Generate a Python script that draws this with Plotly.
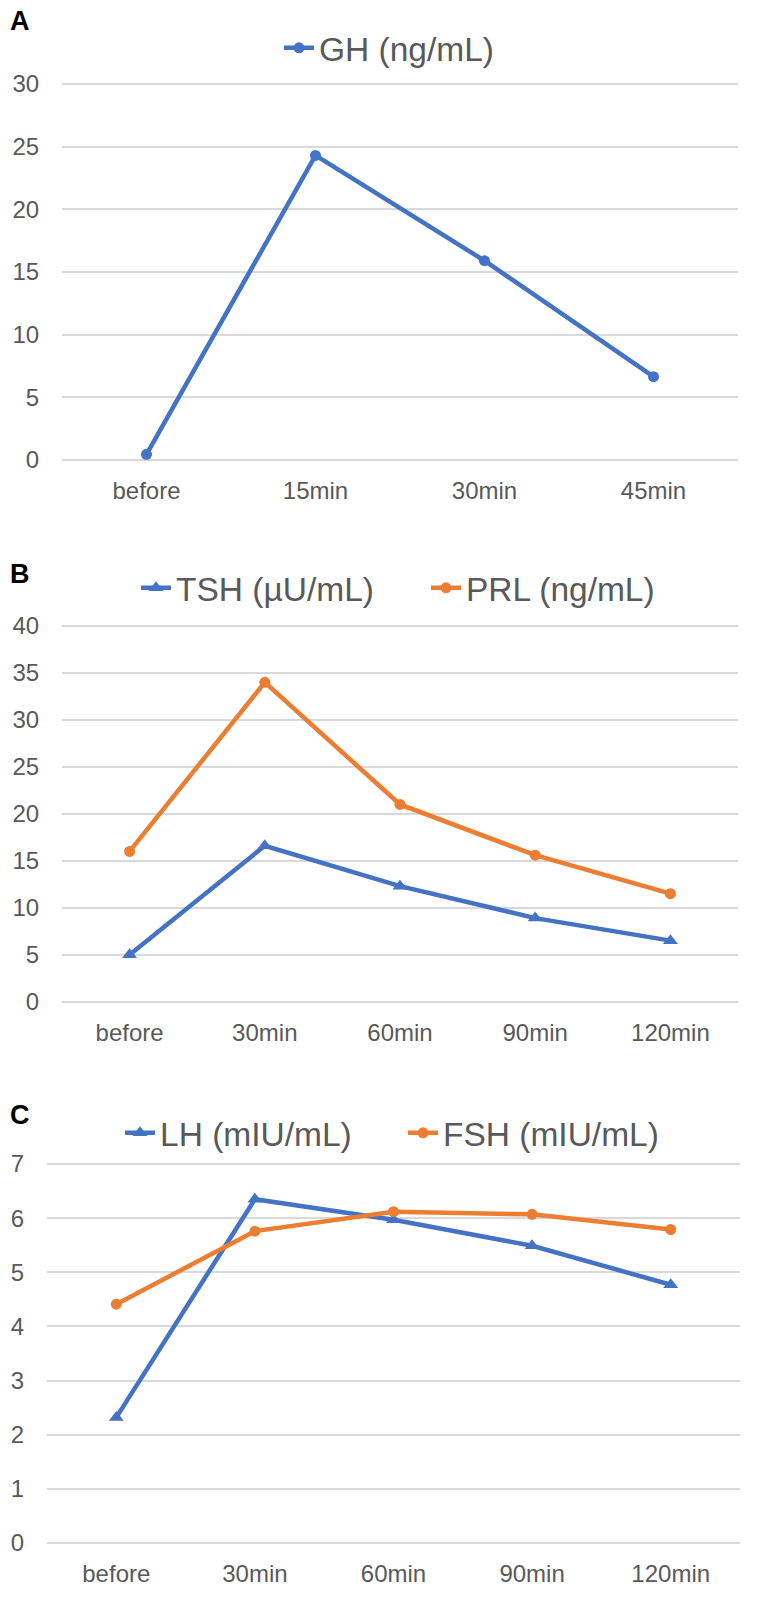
import plotly.graph_objects as go

# Panel A
cats_a = ["before", "15min", "30min", "45min"]
gh = [0.45, 24.3, 15.9, 6.65]

# Panel B
cats_b = ["before", "30min", "60min", "90min", "120min"]
tsh = [5.0, 16.6, 12.3, 8.9, 6.5]
prl = [16.0, 34.0, 21.0, 15.6, 11.5]

# Panel C
cats_c = ["before", "30min", "60min", "90min", "120min"]
lh = [2.32, 6.35, 5.97, 5.49, 4.77]
fsh = [4.41, 5.76, 6.12, 6.07, 5.79]

BLUE = "#4472C4"
ORANGE = "#ED7D31"
FONT = "Liberation Sans, Arial, sans-serif"
GREY = "#595959"

W, H = 760, 1598


def py(pix):
    return 1 - pix / H


fig = go.Figure()

LW = 4.5
fig.add_trace(go.Scatter(x=cats_a, y=gh, name="GH (ng/mL)", mode="lines+markers",
                         line=dict(color=BLUE, width=LW), marker=dict(symbol="circle", size=11, color=BLUE),
                         xaxis="x", yaxis="y", legend="legend"))
fig.add_trace(go.Scatter(x=cats_b, y=tsh, name="TSH (µU/mL)", mode="lines+markers",
                         line=dict(color=BLUE, width=LW), marker=dict(symbol="triangle-up", size=13, color=BLUE),
                         xaxis="x2", yaxis="y2", legend="legend2"))
fig.add_trace(go.Scatter(x=cats_b, y=prl, name="PRL (ng/mL)", mode="lines+markers",
                         line=dict(color=ORANGE, width=LW), marker=dict(symbol="circle", size=11, color=ORANGE),
                         xaxis="x2", yaxis="y2", legend="legend2"))
fig.add_trace(go.Scatter(x=cats_c, y=lh, name="LH (mIU/mL)", mode="lines+markers",
                         line=dict(color=BLUE, width=LW), marker=dict(symbol="triangle-up", size=13, color=BLUE),
                         xaxis="x3", yaxis="y3", legend="legend3"))
fig.add_trace(go.Scatter(x=cats_c, y=fsh, name="FSH (mIU/mL)", mode="lines+markers",
                         line=dict(color=ORANGE, width=LW), marker=dict(symbol="circle", size=11, color=ORANGE),
                         xaxis="x3", yaxis="y3", legend="legend3"))

tickfont = dict(family=FONT, size=24, color=GREY)


def xax(x0, x1, anchor, n):
    return dict(domain=[x0 / W, x1 / W], anchor=anchor, type="category", range=[-0.5, n - 0.5],
                showgrid=False, zeroline=False, showline=False, ticks="outside", ticklen=6,
                tickcolor="rgba(0,0,0,0)", tickfont=tickfont, fixedrange=True, automargin=False)


def yax(top_pix, bot_pix, anchor, vmax, dtick, pad=3):
    per = (bot_pix - top_pix) / vmax
    e = pad / per
    return dict(domain=[py(bot_pix + pad), py(top_pix - pad)], anchor=anchor, range=[-e, vmax + e],
                dtick=dtick, tick0=0, showgrid=True, gridcolor="#D9D9D9", gridwidth=2, zeroline=False,
                showline=False, ticks="outside", ticklen=17, tickcolor="rgba(0,0,0,0)",
                tickfont=tickfont, fixedrange=True, automargin=False)


legfont = dict(family=FONT, size=33.5, color=GREY)


def leg(x_text_start, ycenter, entrywidth=None):
    d = dict(orientation="h", x=(x_text_start - 40) / W, xanchor="left", y=py(ycenter),
             yanchor="middle", font=legfont, bgcolor="rgba(0,0,0,0)", borderwidth=0)
    if entrywidth:
        d["entrywidth"] = entrywidth
        d["entrywidthmode"] = "pixels"
    return d


fig.update_layout(
    width=W, height=H,
    margin=dict(l=0, r=0, t=0, b=0, autoexpand=False),
    paper_bgcolor="white", plot_bgcolor="white",
    xaxis=xax(62, 738, "y", len(cats_a)),
    yaxis=yax(84, 460, "x", 30, 5),
    xaxis2=xax(62, 738, "y2", len(cats_b)),
    yaxis2=yax(626, 1001.7, "x2", 40, 5),
    xaxis3=xax(47, 740, "y3", len(cats_c)),
    yaxis3=yax(1164, 1543, "x3", 7, 1),
    legend=leg(319, 48),
    legend2=leg(176, 588, 245),
    legend3=leg(160, 1133, 238),
    showlegend=True,
)

for lab, ypix in [("A", 21), ("B", 574), ("C", 1115)]:
    fig.add_annotation(text="<b>%s</b>" % lab, x=20 / W, y=py(ypix), xref="paper", yref="paper",
                       xanchor="center", yanchor="middle", showarrow=False,
                       font=dict(family=FONT, size=27, color="black"))

fig.write_html("out.html")
